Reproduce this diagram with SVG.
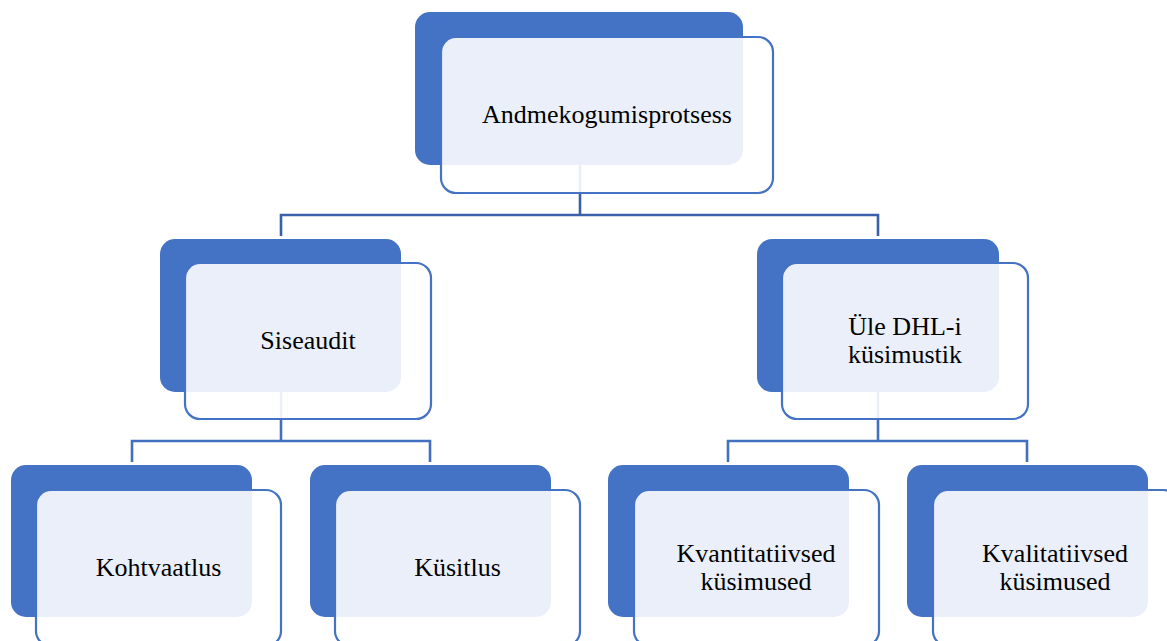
<svg xmlns="http://www.w3.org/2000/svg" width="1167" height="641" viewBox="0 0 1167 641">
  <style>
    .back { fill: #4472C4; }
    .front { fill: #FFFFFF; fill-opacity: 0.89; stroke: #4472C4; stroke-width: 2.2; }
    .lbl { font-family: 'Liberation Serif', 'DejaVu Serif', serif; font-size: 26px; fill: #000000; text-anchor: middle; }
    .conn { fill: none; stroke-width: 2.6; stroke-linecap: butt; stroke-linejoin: miter; }
    .c1 { stroke: #3A60A8; }
    .c2 { stroke: #4270BF; }
  </style>
  <rect width="1167" height="641" fill="#FFFFFF"/>
  <g id="connectors">
    <path class="conn c1" d="M580 165 V215 M281 236 V215 H878 V236"/>
    <path class="conn c2" d="M281 392 V441 M132 462 V441 H430 V462"/>
    <path class="conn c2" d="M878 392 V441 M728 462 V441 H1027 V462"/>
  </g>
  <g font-family="Liberation Serif, serif">
  <g id="node-andmekogumisprotsess">
    <rect class="back" x="415" y="12" width="328" height="153" rx="15"/>
    <rect class="front" x="441" y="37" width="332" height="156" rx="15"/>
    <text class="lbl" font-family="Liberation Serif, serif" x="607" y="123">Andmekogumisprotsess</text>
  </g>
  <g id="node-siseaudit">
    <rect class="back" x="160" y="239" width="241" height="153" rx="15"/>
    <rect class="front" x="185" y="263" width="246" height="156" rx="15"/>
    <text class="lbl" font-family="Liberation Serif, serif" x="308" y="349">Siseaudit</text>
  </g>
  <g id="node-dhl">
    <rect class="back" x="757" y="239" width="242" height="153" rx="15"/>
    <rect class="front" x="782" y="263" width="246" height="156" rx="15"/>
    <text class="lbl" font-family="Liberation Serif, serif" x="905" y="335">Üle DHL-i</text>
    <text class="lbl" font-family="Liberation Serif, serif" x="905" y="363">küsimustik</text>
  </g>
  <g id="node-kohtvaatlus">
    <rect class="back" x="11" y="465" width="241" height="152" rx="15"/>
    <rect class="front" x="36" y="490" width="245" height="156" rx="15"/>
    <text class="lbl" font-family="Liberation Serif, serif" x="158.5" y="576">Kohtvaatlus</text>
  </g>
  <g id="node-kusitlus">
    <rect class="back" x="310" y="465" width="241" height="152" rx="15"/>
    <rect class="front" x="335" y="490" width="245" height="156" rx="15"/>
    <text class="lbl" font-family="Liberation Serif, serif" x="457.5" y="576">Küsitlus</text>
  </g>
  <g id="node-kvantitatiivsed">
    <rect class="back" x="608" y="465" width="241" height="152" rx="15"/>
    <rect class="front" x="634" y="490" width="245" height="156" rx="15"/>
    <text class="lbl" font-family="Liberation Serif, serif" x="756" y="562">Kvantitatiivsed</text>
    <text class="lbl" font-family="Liberation Serif, serif" x="756" y="590">küsimused</text>
  </g>
  <g id="node-kvalitatiivsed">
    <rect class="back" x="907" y="465" width="241" height="152" rx="15"/>
    <rect class="front" x="933" y="490" width="245" height="156" rx="15"/>
    <text class="lbl" font-family="Liberation Serif, serif" x="1055" y="562">Kvalitatiivsed</text>
    <text class="lbl" font-family="Liberation Serif, serif" x="1055" y="590">küsimused</text>
  </g>
  </g>
</svg>
